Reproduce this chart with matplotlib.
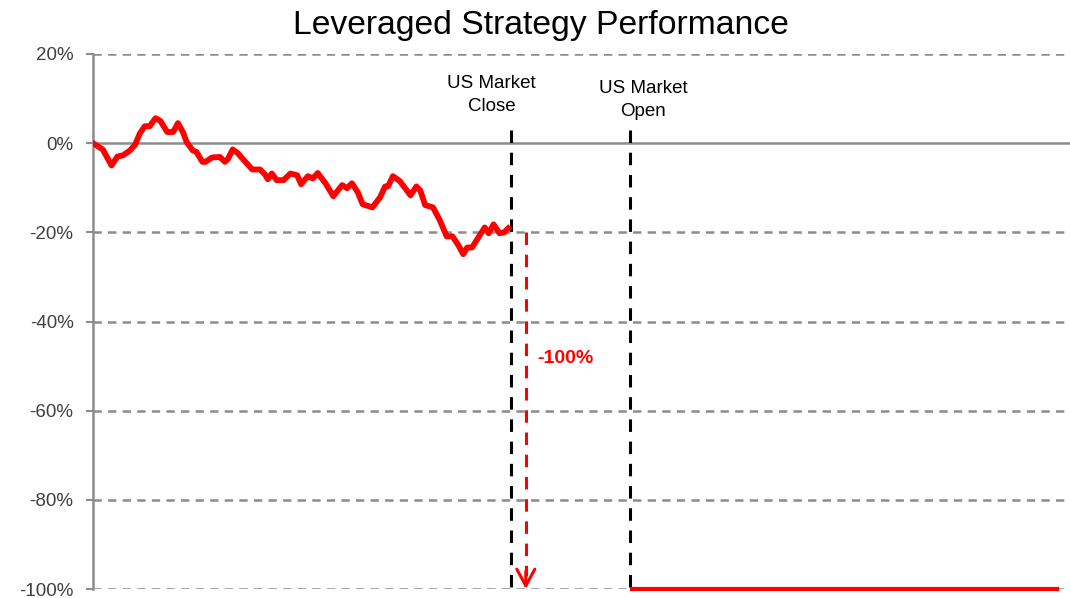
import matplotlib
matplotlib.use('Agg')
import matplotlib.pyplot as plt
import matplotlib.ticker as mtick

plt.rcParams['font.family'] = ['Liberation Sans', 'DejaVu Sans']
plt.rcParams['lines.scale_dashes'] = False
plt.rcParams['axes.unicode_minus'] = False

# strategy path before the close (time units, % return)
t_pre = [0, 1.0, 1.9, 2.5, 3.1, 3.8, 4.3, 4.8, 5.3, 5.8, 6.4, 6.9, 7.6, 8.2, 8.7,
         9.2, 9.6, 10.2, 10.6, 11.2, 11.5, 12.2, 13.0, 13.5, 13.8, 14.3, 14.8,
         15.6, 16.3, 17.1, 17.6, 17.9, 18.3, 18.8, 19.5, 20.2, 20.9, 21.3, 22.0,
         22.5, 23.0, 23.8, 24.6, 25.5, 26.0, 26.5, 27.1, 27.6, 28.6, 29.4, 29.9,
         30.2, 30.7, 31.4, 32.5, 33.1, 33.5, 34.0, 34.8, 35.5, 36.2, 36.8, 37.4,
         37.9, 38.3, 38.8, 39.4, 40.1, 40.5, 41.0, 41.6, 42.1, 42.5]
ret_pre = [0, -1.4, -5.0, -3.0, -2.7, -1.6, -0.4, 2.2, 3.8, 3.8, 5.6, 5.0, 2.5, 2.5,
           4.5, 2.5, 0.2, -1.6, -2.0, -4.2, -4.2, -3.2, -3.1, -4.2, -3.6, -1.4,
           -2.2, -4.2, -5.9, -5.9, -7.0, -8.1, -6.8, -8.3, -8.3, -6.8, -7.2, -9.2,
           -7.4, -7.9, -6.7, -9.0, -11.9, -9.4, -10.1, -9.0, -11.0, -13.7, -14.4,
           -12.1, -9.7, -9.7, -7.4, -8.5, -11.7, -9.7, -10.6, -13.9, -14.4, -17.3,
           -20.9, -20.9, -22.9, -24.9, -23.4, -23.4, -21.3, -18.9, -20.2, -18.2,
           -20.2, -20.0, -19.1]

# after the open
t_post = [55.2, 98.7]
ret_post = [-100, -100]

t_close = 42.8
t_open = 55.0
t_drop = 44.3
drop_from = -20
drop_to = -100

yticks = [20, 0, -20, -40, -60, -80, -100]

fig = plt.figure(figsize=(10.7, 5.98), dpi=100)
ax = fig.add_axes([0.0869, 0.015, 0.9131, 0.8947])
ax.set_xlim(0, 100)
ax.set_ylim(-100, 20)

grey = '#8c8c8c'
for y in yticks:
    if y == 0:
        ax.axhline(y, color=grey, lw=1.8, zorder=1)
    else:
        ax.axhline(y, color=grey, lw=1.8, dashes=(6, 4.5), zorder=1)

for s in ['top', 'right', 'bottom']:
    ax.spines[s].set_visible(False)
ax.spines['left'].set_color(grey)
ax.spines['left'].set_linewidth(1.8)
ax.set_xticks([])
ax.set_yticks(yticks)
ax.yaxis.set_major_formatter(mtick.PercentFormatter(decimals=0))
ax.tick_params(axis='y', length=5, width=1.5, color=grey, labelsize=13.5,
               labelcolor='#404040', pad=9)

# market close / open markers
for t in [t_close, t_open]:
    ax.plot([t, t], [3, -100], color='black', lw=2.2, dashes=(9, 7), zorder=3)
ax.text(40.8, 10.8, 'US Market\nClose', ha='center', va='center', fontsize=13.5, linespacing=1.4)
ax.text(56.3, 9.7, 'US Market\nOpen', ha='center', va='center', fontsize=13.5, linespacing=1.4)

# strategy
ax.plot(t_pre, ret_pre, color='red', lw=4.2, solid_joinstyle='round', zorder=4)
ax.plot(t_post, ret_post, color='red', lw=3, zorder=4, clip_on=False)

# drop arrow
ax.plot([t_drop, t_drop], [drop_from, drop_to + 3], color='red', lw=2.2, dashes=(9, 7), zorder=3)
ax.annotate('', xy=(t_drop, drop_to), xytext=(t_drop, drop_to + 4),
            arrowprops=dict(arrowstyle='->,head_length=1.2,head_width=0.65', color='red', lw=2.2,
                            shrinkA=0, shrinkB=0),
            annotation_clip=False, zorder=4)
ax.text(45.5, -48.3, '-100%', color='red', fontsize=14, fontweight='bold', va='center', ha='left')

fig.text(0.506, 0.958, 'Leveraged Strategy Performance', ha='center', va='center', fontsize=24.3)

fig.savefig('out.png', dpi=100)
